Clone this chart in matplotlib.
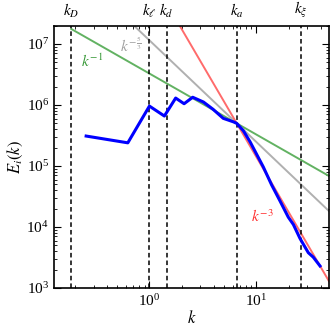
import numpy as np
import matplotlib
matplotlib.use("Agg")
import matplotlib.pyplot as plt

plt.rcParams["font.family"] = "serif"
plt.rcParams["font.serif"] = ["Liberation Serif", "DejaVu Serif"]
plt.rcParams["mathtext.fontset"] = "stix"

# spectrum data
k_data = [0.256, 0.628, 1.0, 1.38, 1.76, 2.11, 2.54, 3.2, 3.94, 4.9, 6.1, 6.56,
          7.55, 8.73, 11.6, 13.9, 16.6, 19.9, 22.2, 25.6, 30.6, 34.1, 39.4]
E_data = [3.1e5, 2.4e5, 9.6e5, 6.6e5, 1.3e6, 1.05e6, 1.34e6, 1.12e6, 8.5e5, 6.05e5,
          5.3e5, 5.0e5, 3.8e5, 2.5e5, 9.7e4, 4.9e4, 2.7e4, 1.45e4, 1.1e4,
          6.5e3, 3.8e3, 3.2e3, 2.3e3]

# characteristic wavenumbers
k_names = [r"$k_D$", r"$k_\ell$", r"$k_d$", r"$k_a$", r"$k_\xi$"]
k_vals = [0.186, 1.0, 1.45, 6.56, 26.2]

# reference power laws pass through (k_a, E0)
E0 = 5.0e5
xmin, xmax = 0.128, 47.8
ymin, ymax = 1e3, 2e7

fig = plt.figure(figsize=(3.33, 3.33), dpi=100)
ax = fig.add_axes([0.162, 0.135, 0.826, 0.788])

kk = np.logspace(np.log10(k_vals[0]), np.log10(xmax), 200)
ka = k_vals[3]
ax.plot(kk, E0 * (kk / ka) ** -1, color="#62b262", lw=1.4)
ax.plot(kk, E0 * (kk / ka) ** (-5 / 3), color="#b0b0b0", lw=1.4)
ax.plot(kk, E0 * (kk / ka) ** -3, color="#ff6b6b", lw=1.4)

for kv, name in zip(k_vals, k_names):
    ax.axvline(kv, color="k", ls=(0, (3, 2)), lw=1.1)
    ax.annotate(name, xy=(kv, 1.0), xycoords=("data", "axes fraction"),
                xytext=(0, 4), textcoords="offset points",
                ha="center", va="bottom", fontsize=11)

ax.plot(k_data, E_data, color="#0000ff", lw=2.2)

ax.text(0.294, 5.1e6, r"$k^{-1}$", color="#3a9a3a", fontsize=11, ha="center", va="center")
ax.text(0.675, 9.5e6, r"$k^{-\frac{5}{3}}$", color="#a0a0a0", fontsize=11, ha="center", va="center")
ax.text(11.3, 1.5e4, r"$k^{-3}$", color="#ff3030", fontsize=11, ha="center", va="center")

ax.set_xscale("log")
ax.set_yscale("log")
ax.set_xlim(xmin, xmax)
ax.set_ylim(ymin, ymax)
ax.set_xlabel(r"$k$", fontsize=12, labelpad=1)
ax.set_ylabel(r"$E_i(k)$", fontsize=12, labelpad=1)
ax.tick_params(which="both", direction="in", top=True, right=True, labelsize=11)
ax.tick_params(which="major", length=5)
ax.tick_params(which="minor", length=2.5)
for s in ax.spines.values():
    s.set_linewidth(1.2)

plt.savefig("out.png", dpi=100)
